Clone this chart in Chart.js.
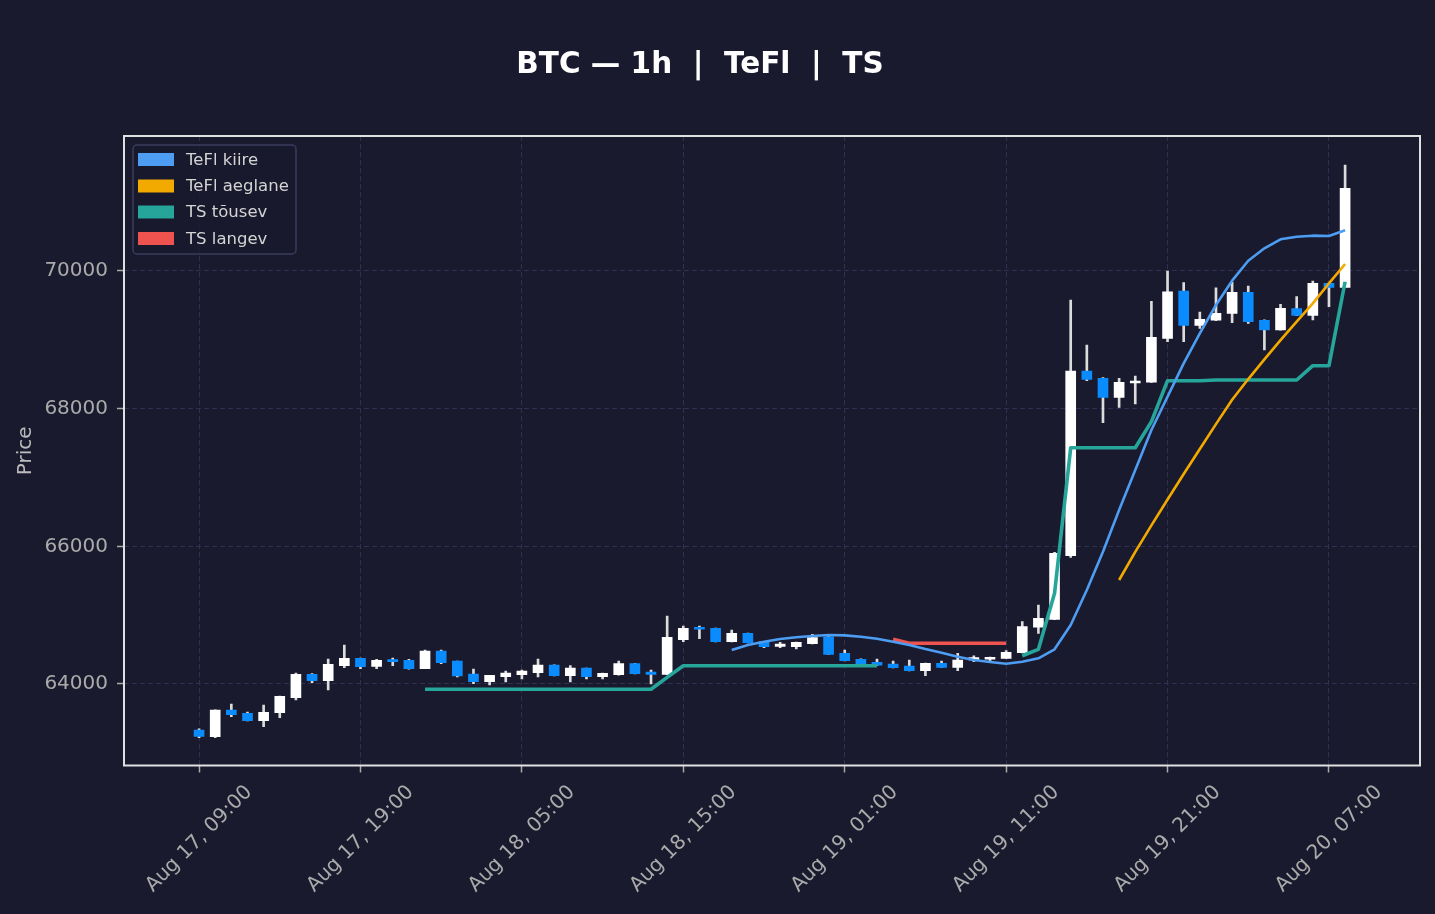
<!DOCTYPE html>
<html>
<head>
<meta charset="utf-8">
<script src="https://cdn.jsdelivr.net/npm/chart.js@4.4.1/dist/chart.umd.min.js"></script>
<style>
html,body{margin:0;padding:0;background:#1a1a2e;overflow:hidden;}
#wrap{width:1435px;height:914px;position:relative;}
</style>
</head>
<body>
<div id="wrap"><canvas id="c" width="1435" height="914"></canvas></div>
<script>
const N = null;
// hourly candles, index 0 = Aug 17 09:00
const openP  = [63330,63234,63620,63575,63467,63583,63800,64140,64048,64266,64373,64257,64345,64344,64222,64479,64334,64145,64034,64106,64135,64164,64276,64121,64232,64106,64135,64295,64174,64140,64644,64810,64809,64615,64736,64615,64547,64542,64586,64687,64446,64359,64315,64290,64262,64193,64300,64242,64349,64359,64373,64455,64824,64939,65864,68547,68441,68165,68373,68383,69022,69709,69211,69284,69385,69690,69284,69143,69453,69356,69820,69762];
const highP  = [63350,63625,63710,63593,63695,63825,64160,64150,64363,64567,64375,64359,64378,64359,64494,64494,64334,64218,64126,64189,64203,64363,64280,64266,64232,64160,64334,64300,64203,64988,64843,64843,64812,64785,64740,64620,64605,64608,64721,64702,64494,64365,64363,64334,64349,64305,64334,64446,64411,64392,64484,64905,65148,65913,69579,68925,68450,68441,68475,69558,70000,69830,69404,69757,69835,69782,69290,69516,69627,69854,69825,71540];
const lowP   = [63220,63220,63525,63465,63380,63510,63768,64019,63913,64237,64222,64222,64266,64215,64222,64295,64102,64004,63985,64029,64073,64102,64118,64029,64073,64073,64130,64148,64000,64135,64615,64658,64612,64612,64598,64527,64527,64508,64583,64431,64335,64290,64270,64235,64190,64121,64240,64193,64324,64315,64370,64450,64736,64935,65840,68406,67796,68018,68068,68380,68974,68973,69167,69280,69250,69240,68852,69140,69350,69288,69481,69760];
const closeP = [63240,63622,63555,63467,63589,63821,64141,64048,64286,64373,64251,64344,64325,64222,64479,64309,64116,64034,64126,64160,64189,64276,64121,64232,64106,64155,64295,64150,64140,64678,64809,64795,64615,64736,64600,64542,64581,64605,64673,64431,64339,64295,64272,64237,64193,64300,64242,64349,64382,64388,64460,64833,64954,65899,68547,68426,68165,68383,68402,69037,69699,69211,69298,69385,69690,69264,69143,69457,69356,69820,69762,71200];

const teflKiire = [N,N,N,N,N,N,N,N,N,N, N,N,N,N,N,N,N,N,N,N, N,N,N,N,N,N,N,N,N,N, N,N,N,
  64494,64567,64615,64654,64678,64697,64712,64707,64687,64658,64615,64567,64508,64455,64397,64349,64320,64295,64324,64373,64504,64857,65366,65922,66528,67109,67690,68174,68658,69094,69506,69859,70149,70329,70460,70498,70513,70508,70591];
const teflAeglane = [N,N,N,N,N,N,N,N,N,N, N,N,N,N,N,N,N,N,N,N, N,N,N,N,N,N,N,N,N,N, N,N,N,N,N,N,N,N,N,N, N,N,N,N,N,N,N,N,N,N, N,N,N,N,N,N,N,
  65511,65920,66305,66680,67050,67415,67775,68130,68430,68715,68995,69264,69530,69820,70102];
const tsTousev = [N,N,N,N,N,N,N,N,N,N, N,N,N,N,
  63923,63923,63923,63923,63923,63923,63923,63923,63923,63923,63923,63923,63923,63923,63923,
  64097,
  64266,64266,64266,64266,64266,64266,64266,64266,64266,64266,64266,64266,64266,
  N,N,N,N,N,N,N,N,
  64411,64504,65318,67433,67433,67433,67433,67433,67811,68406,68406,68406,68416,68416,68416,68416,68416,68416,68624,68624,69844];
const tsLangev = [N,N,N,N,N,N,N,N,N,N, N,N,N,N,N,N,N,N,N,N, N,N,N,N,N,N,N,N,N,N, N,N,N,N,N,N,N,N,N,N, N,N,N,
  64649,64591,64591,64591,64591,64591,64591,64591,
  N,N,N,N,N,N,N,N,N,N, N,N,N,N,N,N,N,N,N,N,N];

const xTickPositions = [0,10,20,30,40,50,60,70];
const xTickLabels = ['Aug 17, 09:00','Aug 17, 19:00','Aug 18, 05:00','Aug 18, 15:00','Aug 19, 01:00','Aug 19, 11:00','Aug 19, 21:00','Aug 20, 07:00'];
const yTickValues = [64000,66000,68000,70000];
const seriesNames = ['TeFl kiire','TeFl aeglane','TS tõusev','TS langev'];
const seriesColors = ['#4d9df2','#f2a900','#26a69a','#ef5350'];
const titleText = 'BTC — 1h  |  TeFl  |  TS';

const BG = '#1a1a2e';
const FONT = '"DejaVu Sans", "Liberation Sans", sans-serif';
const UP = '#ffffff', DOWN = '#0a8cff', WICK = '#dcdcdc';

const bodies = openP.map((o, i) => ({x: i, y: [o, closeP[i]]}));
const wicks = openP.map((o, i) => ({x: i, y: [lowP[i], highP[i]]}));
const bodyColors = openP.map((o, i) => closeP[i] >= o ? UP : DOWN);
const toXY = arr => arr.map((v, i) => ({x: i, y: v}));

const lineSeries = [teflKiire, teflAeglane, tsTousev, tsLangev];
const lineWidths = [2.6, 2.6, 3.6, 3.6];

const lineDatasets = lineSeries.map((arr, k) => ({
  type: 'line',
  label: seriesNames[k],
  data: toXY(arr),
  borderColor: seriesColors[k],
  backgroundColor: seriesColors[k],
  borderWidth: lineWidths[k],
  pointRadius: 0,
  tension: 0,
  spanGaps: false,
  fill: false,
  order: 0,
  borderJoinStyle: 'round',
  borderCapStyle: 'butt'
}));

const bgPlugin = {
  id: 'bg',
  beforeDraw(chart) {
    const ctx = chart.ctx;
    ctx.save();
    ctx.fillStyle = BG;
    ctx.fillRect(0, 0, chart.width, chart.height);
    ctx.restore();
  },
  afterDraw(chart) {
    const ctx = chart.ctx;
    const a = chart.chartArea;
    ctx.save();
    // frame
    ctx.strokeStyle = '#e0e0e0';
    ctx.lineWidth = 2;
    ctx.strokeRect(a.left, a.top, a.right - a.left, a.bottom - a.top);
    // title
    ctx.fillStyle = '#ffffff';
    ctx.font = 'bold 29.5px ' + FONT;
    ctx.textAlign = 'center';
    ctx.textBaseline = 'alphabetic';
    ctx.fillText(titleText, 700, 73);
    // legend
    const lx = 133, ly = 145, lw = 163, lh = 109, r = 4;
    ctx.beginPath();
    ctx.moveTo(lx + r, ly);
    ctx.arcTo(lx + lw, ly, lx + lw, ly + lh, r);
    ctx.arcTo(lx + lw, ly + lh, lx, ly + lh, r);
    ctx.arcTo(lx, ly + lh, lx, ly, r);
    ctx.arcTo(lx, ly, lx + lw, ly, r);
    ctx.closePath();
    ctx.fillStyle = 'rgba(26,26,46,0.85)';
    ctx.fill();
    ctx.strokeStyle = '#3b3b5e';
    ctx.lineWidth = 1.5;
    ctx.stroke();
    const rows = [159.5, 186, 212, 238.5];
    ctx.font = '16.5px ' + FONT;
    ctx.textAlign = 'left';
    ctx.textBaseline = 'middle';
    seriesNames.forEach((name, k) => {
      ctx.fillStyle = seriesColors[k];
      ctx.fillRect(138, rows[k] - 6.5, 36, 13);
      ctx.fillStyle = '#d4d4d4';
      ctx.fillText(name, 186, rows[k] + 1);
    });
    ctx.restore();
  }
};

const gridCommon = {
  color: '#303052',
  lineWidth: 1,
  offset: false,
  drawTicks: true,
  tickLength: 7,
  tickColor: '#aaaaaa',
  tickWidth: 1.5,
  tickBorderDash: []
};

new Chart(document.getElementById('c'), {
  type: 'bar',
  data: {
    datasets: [
      ...lineDatasets,
      {
        type: 'bar', label: 'body', data: bodies, backgroundColor: bodyColors,
        borderWidth: 0, barThickness: 10, grouped: false, minBarLength: 2, order: 1
      },
      {
        type: 'bar', label: 'wick', data: wicks, backgroundColor: WICK,
        borderWidth: 0, barThickness: 2, grouped: false, order: 2
      }
    ]
  },
  options: {
    responsive: false,
    animation: false,
    events: [],
    layout: {padding: {left: 0, right: 15, top: 136, bottom: 0}},
    plugins: {legend: {display: false}, tooltip: {enabled: false}, title: {display: false}},
    scales: {
      x: {
        type: 'linear', min: -4.65, max: 75.64, offset: false,
        grid: gridCommon,
        border: {display: false, dash: [5, 3]},
        afterBuildTicks: s => { s.ticks = xTickPositions.map(v => ({value: v})); },
        afterFit: s => { s.height = 148.5; },
        ticks: {
          autoSkip: false, maxRotation: 45, minRotation: 45,
          color: '#aaaaaa', font: {family: FONT, size: 20},
          labelOffset: 50, padding: 8,
          callback: v => { const k = xTickPositions.indexOf(v); return k >= 0 ? xTickLabels[k] : ''; }
        }
      },
      y: {
        type: 'linear', min: 62816, max: 71961,
        grid: gridCommon,
        border: {display: false, dash: [5, 3]},
        afterBuildTicks: s => { s.ticks = yTickValues.map(v => ({value: v})); },
        afterFit: s => { s.width = 124; },
        ticks: {
          color: '#aaaaaa', font: {family: FONT, size: 20}, padding: 9,
          callback: v => String(v)
        },
        title: {
          display: true, text: 'Price', color: '#bbbbbb',
          font: {family: FONT, size: 20}, padding: {top: 14, bottom: 0}
        }
      }
    }
  },
  plugins: [bgPlugin]
});
</script>
</body>
</html>
